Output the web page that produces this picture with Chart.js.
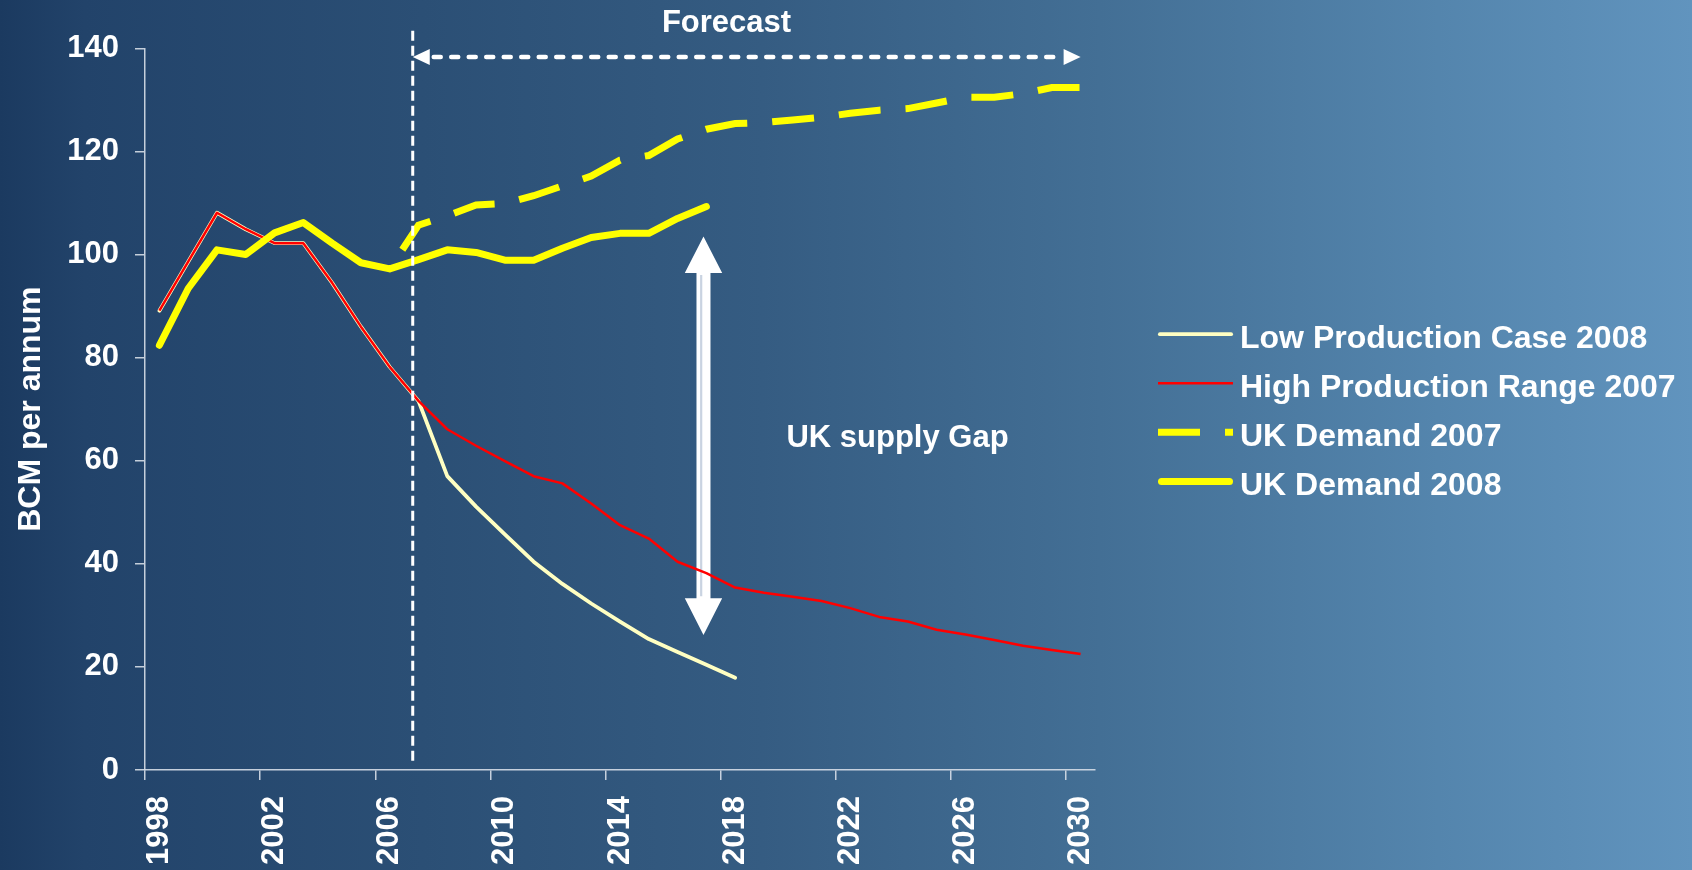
<!DOCTYPE html>
<html>
<head>
<meta charset="utf-8">
<script src="https://cdn.jsdelivr.net/npm/chart.js@4.4.1/dist/chart.umd.min.js"></script>
<style>
html,body{margin:0;padding:0;width:1692px;height:870px;overflow:hidden;}
body{background:linear-gradient(to right,#1b3a60 0%,#22436a 5%,#2b4f75 25%,#355c82 45%,#436f95 65%,#5485ad 85%,#6194be 100%);}
#wrap{position:absolute;left:0;top:0;width:1692px;height:870px;}
canvas{display:block;}
</style>
</head>
<body>
<div id="wrap"><canvas id="c" width="1692" height="870"></canvas></div>
<script>
// ---------- data ----------
const years = ['1998','1999','2000','2001','2002','2003','2004','2005','2006','2007','2008',
  '2009','2010','2011','2012','2013','2014','2015','2016','2017','2018','2019','2020',
  '2021','2022','2023','2024','2025','2026','2027','2028','2029','2030'];

const lowProduction2008 = [89.1, 98.6, 108.1, 104.9, 102.2, 102.2, 94.5, 86.0, 78.2, 71.6,
  57.0, 51.1, 45.7, 40.4, 36.1, 32.3, 28.8, 25.4, 22.9, 20.4, 17.9,
  null, null, null, null, null, null, null, null, null, null, null, null];

const highProduction2007 = [89.1, 98.6, 108.1, 104.9, 102.2, 102.2, 94.5, 86.0, 78.2, 71.6,
  66.1, 62.9, 59.9, 57.0, 55.6, 51.7, 47.5, 44.9, 40.4, 38.2, 35.4,
  34.4, 33.6, 32.8, 31.4, 29.7, 28.8, 27.2, 26.3, 25.2, 24.1, 23.3, 22.5];

const ukDemand2007 = [null, null, null, null, null, null, null, null, 97.2, 105.7,
  107.5, 109.6, 109.9, 111.4, 113.3, 115.2, 118.3, 119.2, 122.4, 124.3, 125.4,
  125.6, 126.1, 126.6, 127.4, 128.0, 128.3, 129.4, 130.5, 130.5, 131.2, 132.4, 132.4];

const ukDemand2008 = [82.4, 93.4, 100.9, 100.0, 104.2, 106.2, 102.2, 98.4, 97.2, 99.0,
  100.9, 100.4, 98.9, 98.9, 101.2, 103.3, 104.1, 104.1, 107.0, 109.3,
  null, null, null, null, null, null, null, null, null, null, null, null, null];

const yTicks = [0, 20, 40, 60, 80, 100, 120, 140];
const seriesLabels = ['Low Production Case 2008', 'High Production Range 2007', 'UK Demand 2007', 'UK Demand 2008'];
const yTitle = 'BCM per annum';
const forecastLabel = 'Forecast';
const gapLabel = 'UK supply Gap';

// ---------- styling ----------
const FONT = '"Liberation Sans", Arial, Helvetica, sans-serif';
const AXIS = 'rgba(215,222,232,0.9)';
const WHITE = '#ffffff';
Chart.defaults.font.family = FONT;
Chart.defaults.font.weight = 'bold';
Chart.defaults.color = WHITE;

// annotation anchors in data space (category index, value)
const notes = {
  forecastStart: 8.8, forecastEnd: 32, forecastArrowY: 138.3,
  vlineTop: 143.4, vlineBottom: 1.2,
  forecastTextX: 19.7, forecastTextY: 143.2,
  gapX: 18.9, gapTop: 103.5, gapBottom: 26.2,
  gapTextX: 25.64, gapTextY: 62.7
};

const bgArrowPlugin = {
  id: 'gapArrow',
  beforeDatasetsDraw(chart) {
    const {ctx, scales: {x: xs, y: ys}} = chart;
    const x = xs.getPixelForValue(notes.gapX);
    const yt = ys.getPixelForValue(notes.gapTop);
    const yb = ys.getPixelForValue(notes.gapBottom);
    const hl = 36.6, hw = 18.7, sw = 7;
    ctx.save();
    ctx.fillStyle = WHITE;
    ctx.beginPath();
    ctx.moveTo(x, yt);
    ctx.lineTo(x + hw, yt + hl);
    ctx.lineTo(x + sw, yt + hl);
    ctx.lineTo(x + sw, yb - hl);
    ctx.lineTo(x + hw, yb - hl);
    ctx.lineTo(x, yb);
    ctx.lineTo(x - hw, yb - hl);
    ctx.lineTo(x - sw, yb - hl);
    ctx.lineTo(x - sw, yt + hl);
    ctx.lineTo(x - hw, yt + hl);
    ctx.closePath();
    ctx.fill();
    ctx.strokeStyle = '#c9d3e1';
    ctx.lineWidth = 2.2;
    ctx.beginPath();
    ctx.moveTo(x - 2.3, yt + hl + 2);
    ctx.lineTo(x - 2.3, yb - hl - 2);
    ctx.stroke();
    ctx.restore();
  }
};

const overlayPlugin = {
  id: 'overlay',
  afterDatasetsDraw(chart) {
    const {ctx, scales: {x: xs, y: ys}} = chart;
    ctx.save();
    // vertical dashed forecast boundary
    const xv = xs.getPixelForValue(notes.forecastStart);
    ctx.strokeStyle = WHITE;
    ctx.lineWidth = 3;
    ctx.setLineDash([10, 5]);
    ctx.beginPath();
    ctx.moveTo(xv, ys.getPixelForValue(notes.vlineTop));
    ctx.lineTo(xv, ys.getPixelForValue(notes.vlineBottom));
    ctx.stroke();

    // horizontal forecast double arrow
    const xr = xs.getPixelForValue(notes.forecastEnd);
    const ya = ys.getPixelForValue(notes.forecastArrowY);
    const ah = 17, aw = 8;
    ctx.lineWidth = 4.5;
    ctx.lineCap = 'round';
    ctx.setLineDash([7, 10.5]);
    ctx.beginPath();
    ctx.moveTo(xv + ah + 4, ya);
    ctx.lineTo(xr - ah - 2, ya);
    ctx.stroke();
    ctx.setLineDash([]);
    ctx.fillStyle = WHITE;
    ctx.beginPath();
    ctx.moveTo(xv, ya); ctx.lineTo(xv + ah, ya - aw); ctx.lineTo(xv + ah, ya + aw); ctx.closePath(); ctx.fill();
    ctx.beginPath();
    ctx.moveTo(xr, ya); ctx.lineTo(xr - ah, ya - aw); ctx.lineTo(xr - ah, ya + aw); ctx.closePath(); ctx.fill();

    // texts
    ctx.font = 'bold 31px ' + FONT;
    ctx.textAlign = 'center';
    ctx.textBaseline = 'alphabetic';
    ctx.fillText(forecastLabel, xs.getPixelForValue(notes.forecastTextX), ys.getPixelForValue(notes.forecastTextY));
    ctx.fillText(gapLabel, xs.getPixelForValue(notes.gapTextX), ys.getPixelForValue(notes.gapTextY));
    ctx.restore();
  },
  afterDraw(chart) {
    // legend on the right
    const ctx = chart.ctx;
    const ds = chart.data.datasets;
    const x0 = 1158, x1 = 1233, tx = 1240;
    const baselines = [347.7, 396.7, 445.7, 495];
    ctx.save();
    ds.forEach((d, i) => {
      const yl = baselines[i] - 13.5;
      ctx.strokeStyle = d.borderColor;
      ctx.lineWidth = d.borderWidth;
      ctx.lineCap = d.borderCapStyle || 'butt';
      ctx.setLineDash(d.borderDash || []);
      ctx.lineDashOffset = 0;
      ctx.beginPath();
      ctx.moveTo(x0 + (ctx.lineCap === 'round' ? d.borderWidth / 2 : 0), yl);
      ctx.lineTo(x1 - (ctx.lineCap === 'round' ? d.borderWidth / 2 : 0), yl);
      ctx.stroke();
      ctx.setLineDash([]);
      ctx.fillStyle = WHITE;
      ctx.font = 'bold 32px ' + FONT;
      ctx.textAlign = 'left';
      ctx.textBaseline = 'alphabetic';
      ctx.fillText(d.label, tx, baselines[i]);
    });
    ctx.restore();
  }
};

new Chart(document.getElementById('c'), {
  type: 'line',
  data: {
    labels: years,
    datasets: [
      { label: seriesLabels[0], data: lowProduction2008, borderColor: '#ffffc2', borderWidth: 3.8,
        borderCapStyle: 'round', borderJoinStyle: 'round', order: 3 },
      { label: seriesLabels[1], data: highProduction2007, borderColor: '#ff0000', borderWidth: 2.5,
        borderJoinStyle: 'round', order: 2 },
      { label: seriesLabels[2], data: ukDemand2007, borderColor: '#ffff00', borderWidth: 7,
        borderDash: [42, 25], borderDashOffset: 44, order: 1 },
      { label: seriesLabels[3], data: ukDemand2008, borderColor: '#ffff00', borderWidth: 7,
        borderCapStyle: 'round', borderJoinStyle: 'round', order: 0 }
    ]
  },
  options: {
    responsive: false,
    animation: false,
    devicePixelRatio: 1,
    spanGaps: false,
    elements: { point: { radius: 0, hoverRadius: 0 }, line: { tension: 0, fill: false } },
    layout: { padding: { left: 0, top: 48.3, right: 597, bottom: 0 } },
    plugins: { legend: { display: false }, tooltip: { enabled: false } },
    scales: {
      x: {
        type: 'category',
        offset: true,
        grid: {
          offset: true, drawOnChartArea: false, drawTicks: true, tickLength: 10, lineWidth: 1.5,
          color: (c) => (c.index % 4 === 0 ? AXIS : 'rgba(0,0,0,0)')
        },
        border: { display: true, color: AXIS, width: 1.5 },
        ticks: {
          autoSkip: false, maxRotation: 90, minRotation: 90, padding: 16, color: WHITE,
          font: { size: 31, weight: 'bold' },
          callback: (v, i) => (i % 4 === 0 ? years[i] : '')
        },
        afterFit: (s) => { s.height = 100; }
      },
      y: {
        min: 0, max: 140,
        afterBuildTicks: (s) => { s.ticks = yTicks.map(v => ({ value: v })); },
        grid: { drawOnChartArea: false, drawTicks: true, tickLength: 10, color: AXIS, lineWidth: 1.5 },
        border: { display: true, color: AXIS, width: 1.5 },
        ticks: { padding: 16, color: WHITE, font: { size: 31, weight: 'bold' } },
        title: { display: true, text: yTitle, color: WHITE, font: { size: 32, weight: 'bold' }, padding: { top: 12, bottom: 0 } },
        afterFit: (s) => { s.width = 145; }
      }
    }
  },
  plugins: [bgArrowPlugin, overlayPlugin]
});
</script>
</body>
</html>
